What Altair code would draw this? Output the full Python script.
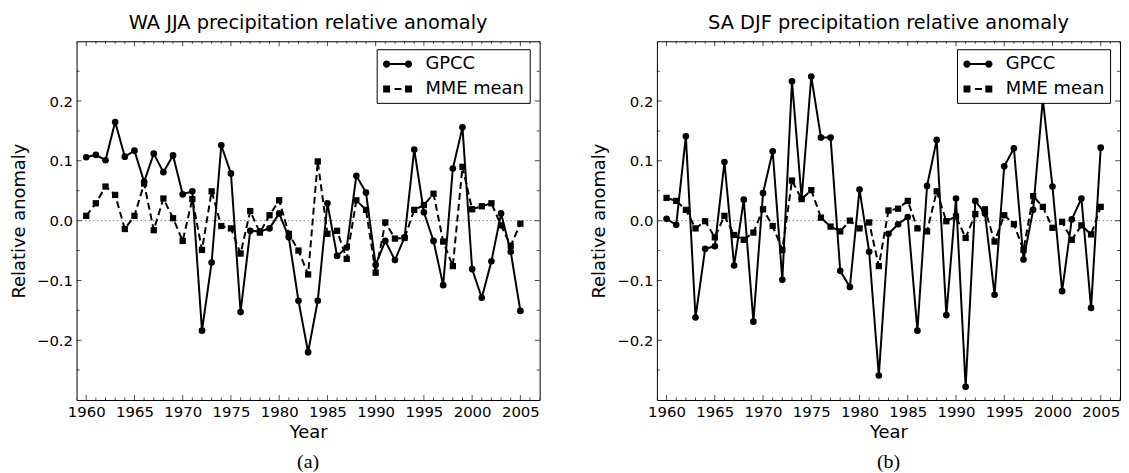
import altair as alt
import pandas as pd

years = list(range(1960, 2006))

wa_gpcc = [0.106, 0.110, 0.101, 0.165, 0.107, 0.117, 0.065, 0.112, 0.081, 0.109,
           0.044, 0.049, -0.184, -0.070, 0.126, 0.079, -0.153, -0.017, -0.018, -0.013,
           0.012, -0.028, -0.134, -0.220, -0.134, 0.029, -0.059, -0.045, 0.075, 0.047,
           -0.074, -0.034, -0.066, -0.028, 0.119, 0.014, -0.034, -0.108, 0.087, 0.156,
           -0.081, -0.129, -0.068, 0.012, -0.052, -0.151]
wa_mme = [0.008, 0.029, 0.057, 0.043, -0.014, 0.008, 0.062, -0.016, 0.037, 0.004,
          -0.034, 0.036, -0.049, 0.049, -0.009, -0.013, -0.055, 0.016, -0.020, 0.009,
          0.034, -0.022, -0.050, -0.090, 0.099, -0.022, -0.017, -0.064, 0.034, 0.018,
          -0.087, -0.003, -0.030, -0.029, 0.018, 0.026, 0.045, -0.035, -0.076, 0.090,
          0.019, 0.024, 0.029, -0.008, -0.042, -0.005]
sa_gpcc = [0.003, -0.007, 0.141, -0.162, -0.047, -0.043, 0.098, -0.075, 0.035, -0.169,
           0.046, 0.116, -0.099, 0.233, 0.037, 0.241, 0.139, 0.139, -0.084, -0.111,
           0.052, -0.052, -0.259, -0.022, -0.006, 0.006, -0.184, 0.058, 0.135, -0.158,
           0.037, -0.278, 0.033, 0.012, -0.124, 0.091, 0.121, -0.065, 0.018, 0.203,
           0.057, -0.118, 0.002, 0.037, -0.146, 0.122]
sa_mme = [0.038, 0.033, 0.018, -0.013, -0.001, -0.028, 0.008, -0.024, -0.032, -0.020,
          0.019, -0.009, -0.049, 0.067, 0.036, 0.051, 0.005, -0.010, -0.018, 0.000,
          -0.013, -0.003, -0.076, 0.017, 0.020, 0.033, -0.013, -0.018, 0.049, -0.001,
          0.007, -0.029, 0.011, 0.019, -0.035, 0.009, -0.006, -0.049, 0.041, 0.023,
          -0.012, -0.002, -0.032, -0.008, -0.023, 0.023]

series_names = ["GPCC", "MME mean"]
titles = ["WA JJA precipitation relative anomaly", "SA DJF precipitation relative anomaly"]
panel_tags = ["(a)", "(b)"]
x_major = list(range(1960, 2006, 5))
x_minor = [y for y in range(1959, 2008) if y % 5 != 0]
y_labels = [-0.2, -0.1, 0.0, 0.1, 0.2]
y_minor = [-0.25, -0.15, -0.05, 0.05, 0.15, 0.25]

W, H = 466, 361
FONT = "DejaVu Sans"

xs = alt.Scale(domain=[1959, 2007], nice=False, zero=False)
ys = alt.Scale(domain=[-0.3, 0.3], nice=False, zero=False)

x_axis = alt.Axis(values=x_major, format="d", ticks=False, tickSize=0, domain=False, grid=False,
                  labelFontSize=15, labelPadding=5, title="Year", titleFontSize=18,
                  titlePadding=4)
y_axis = alt.Axis(values=y_labels, format=".1f", ticks=False, tickSize=0, domain=False, grid=False,
                  labelFontSize=15, labelPadding=4, title="Relative anomaly", titleFontSize=18,
                  titlePadding=8)

X = alt.X("year:Q", scale=xs, axis=x_axis)
Y = alt.Y("value:Q", scale=ys, axis=y_axis)

# legend glyphs drawn with fills only (line segments as thin bars)
path_gpcc = ("M-0.5,-0.1H1.7V0.1H-0.5Z"
             "M-0.87,0a0.37,0.37 0 1,1 0.74,0a0.37,0.37 0 1,1 -0.74,0Z"
             "M1.33,0a0.37,0.37 0 1,1 0.74,0a0.37,0.37 0 1,1 -0.74,0Z")
path_mme = ("M-0.85,-0.35h0.7v0.7h-0.7Z"
            "M1.35,-0.35h0.7v0.7h-0.7Z"
            "M0.3,-0.1H1.0V0.1H0.3Z")


def panel(title, gpcc, mme, tag):
    df = pd.DataFrame({"year": years, "gpcc": gpcc, "mme": mme})
    g = df[["year", "gpcc"]].rename(columns={"gpcc": "value"})
    m = df[["year", "mme"]].rename(columns={"mme": "value"})

    zero = alt.Chart(pd.DataFrame({"value": [0.0]})).mark_rule(
        color="#888888", strokeWidth=1, strokeDash=[1.5, 2.5]).encode(y=Y)

    g_line = alt.Chart(g).mark_line(color="black", strokeWidth=2).encode(x=X, y=Y)
    g_pts = alt.Chart(g).mark_circle(color="black", size=45, opacity=1).encode(x=X, y=Y)
    m_line = alt.Chart(m).mark_line(color="black", strokeWidth=2, strokeDash=[7, 4]).encode(x=X, y=Y)
    m_pts = alt.Chart(m).mark_square(color="black", size=40, opacity=1).encode(x=X, y=Y)

    xmaj = pd.DataFrame({"year": x_major})
    xmin = pd.DataFrame({"year": x_minor})
    ymaj = pd.DataFrame({"value": y_labels})
    ymin = pd.DataFrame({"value": y_minor})
    ticks = []
    for d, sz in ((xmaj, 10), (xmin, 5)):
        for yy in (0, H):
            ticks.append(alt.Chart(d).mark_tick(color="black", size=sz, thickness=1, clip=True,
                                                orient="vertical").encode(x=X, y=alt.value(yy)))
    for d, sz in ((ymaj, 10), (ymin, 6)):
        for xx in (0, W):
            ticks.append(alt.Chart(d).mark_tick(color="black", size=sz, thickness=1, clip=True,
                                                orient="horizontal").encode(y=Y, x=alt.value(xx)))

    legend = alt.Chart(pd.DataFrame({"series": series_names})).mark_point(
        filled=True, opacity=0, size=400, color="black").encode(
        shape=alt.Shape("series:N",
                        scale=alt.Scale(domain=series_names, range=[path_gpcc, path_mme]),
                        legend=alt.Legend(title=None, orient="none", legendX=302, legendY=8,
                                          padding=5, strokeColor="black", fillColor="white",
                                          cornerRadius=0, labelFont=FONT, labelFontSize=18,
                                          labelColor="black", labelOffset=24, symbolSize=400,
                                          symbolStrokeWidth=0, symbolFillColor="black",
                                          rowPadding=6, symbolOpacity=1, labelLimit=300)))

    tag_text = alt.Chart(pd.DataFrame({"t": [tag]})).mark_text(
        font="Liberation Serif", fontSize=20, color="black", align="center",
        baseline="middle").encode(text="t:N", x=alt.value(W / 2), y=alt.value(H + 62))

    return alt.layer(zero, g_line, g_pts, m_line, m_pts, *ticks, legend, tag_text).properties(
        width=W, height=H,
        title=alt.TitleParams(title, frame="group", anchor="middle", offset=-7,
                              baseline="alphabetic", font=FONT, fontSize=19.5,
                              fontWeight="normal", color="black"))


left = panel(titles[0], wa_gpcc, wa_mme, panel_tags[0])
right = panel(titles[1], sa_gpcc, sa_mme, panel_tags[1])

chart = alt.hconcat(left, right, spacing=50).resolve_scale(shape="independent").resolve_legend(
    shape="independent").properties(
    padding={"left": 2, "top": 3, "right": 0, "bottom": 0}
).configure_view(stroke="black", strokeWidth=1).configure_axis(
    labelFont=FONT, titleFont=FONT, labelColor="black", titleColor="black",
    titleFontWeight="normal")

chart.save("out.html", embed_options={"renderer": "svg", "actions": False})
